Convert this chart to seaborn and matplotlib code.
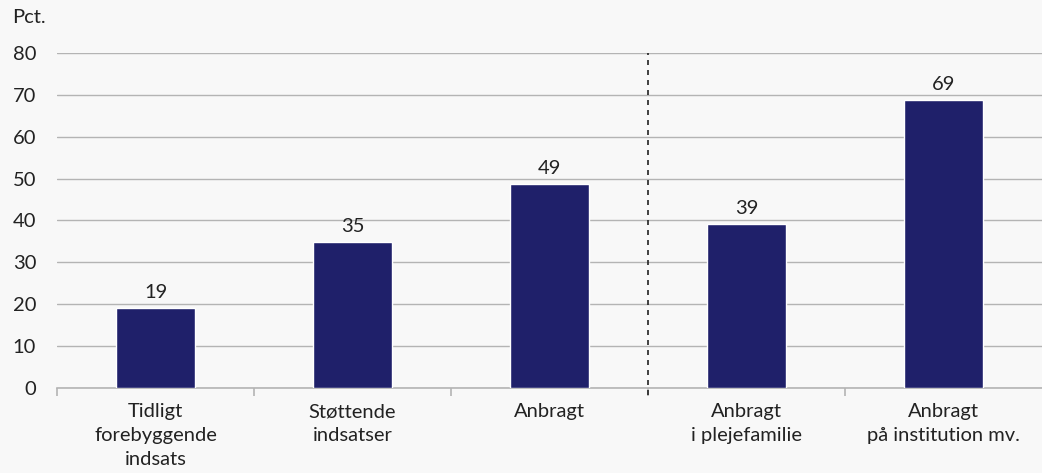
import numpy as np
import pandas as pd
import matplotlib
matplotlib.use("Agg")
import matplotlib.pyplot as plt
import seaborn as sns

# --- Data ---
categories = [
    "Tidligt\nforebyggende\nindsats",
    "Støttende\nindsatser",
    "Anbragt",
    "Anbragt\ni plejefamilie",
    "Anbragt\npå institution mv.",
]
values = [19.2, 34.9, 48.7, 39.2, 68.8]
value_labels = ["19", "35", "49", "39", "69"]
y_ticks = [0, 10, 20, 30, 40, 50, 60, 70, 80]

bg = "#f8f8f8"
bar_color = "#1f206a"
grid_color = "#b4b4b4"
text_color = "#222222"

sns.set_theme(style="white")
plt.rcParams["font.family"] = ["Lato", "DejaVu Sans"]

df = pd.DataFrame({"kategori": categories, "pct": values})

fig = plt.figure(figsize=(10.42, 4.73), dpi=100, facecolor=bg)
ax = fig.add_axes([0.0547, 0.1797, 0.9453, 0.7083])
ax.set_facecolor(bg)

sns.barplot(data=df, x="kategori", y="pct", color=bar_color, width=0.4,
            saturation=1, ax=ax, zorder=3)

# value labels above bars
for i, (v, lab) in enumerate(zip(values, value_labels)):
    ax.text(i, v + 1.6, lab, ha="center", va="bottom", fontsize=14.5, color=text_color)

ax.set_ylim(0, 80)
ax.set_xlim(-0.5, 4.5)
ax.set_yticks(y_ticks)
ax.yaxis.grid(True, color=grid_color, linewidth=1, zorder=0)
ax.set_axisbelow(True)

# separator between groups
ax.axvline(2.5, color="#222222", linestyle=(0, (3, 3)), linewidth=1.2, zorder=4,
           ymin=-0.02, clip_on=False)

for side in ["top", "right", "left"]:
    ax.spines[side].set_visible(False)
ax.spines["bottom"].set_color(grid_color)
ax.spines["bottom"].set_linewidth(1.2)

ax.set_xlabel("")
ax.set_ylabel("")
ax.set_xticks(range(len(categories)))
ax.set_xticklabels(categories, linespacing=1.5)
ax.tick_params(axis="y", length=0, labelsize=14.5, labelcolor=text_color, pad=15)
ax.tick_params(axis="x", which="major", length=0, labelsize=14.5,
               labelcolor=text_color, pad=11)
ax.set_xticks(np.arange(-0.5, 4.5, 1.0), minor=True)
ax.tick_params(axis="x", which="minor", length=6, width=1.2, color=grid_color,
               direction="out", bottom=True)

fig.text(0.012, 0.945, "Pct.", fontsize=14.5, color=text_color, ha="left", va="bottom")

fig.savefig("out.png", dpi=100, facecolor=bg)
